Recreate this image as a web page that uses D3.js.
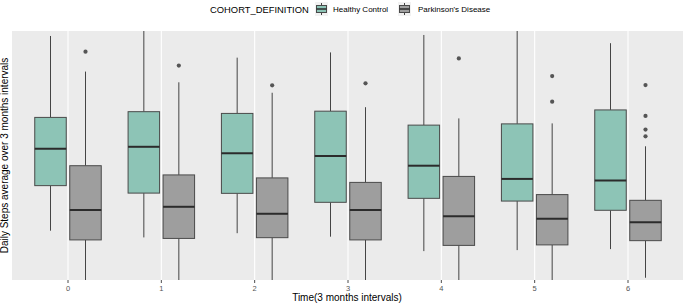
<!DOCTYPE html>
<html>
<head>
<meta charset="utf-8">
<script src="https://cdnjs.cloudflare.com/ajax/libs/d3/7.8.5/d3.min.js"></script>
<style>
  body { margin: 0; background: #fff; }
  svg { display: block; font-family: "Liberation Sans", Arial, Helvetica, sans-serif; }
</style>
</head>
<body>
<svg id="chart" width="683" height="305"></svg>
<script>
"use strict"

// Time points (3 months intervals) and cohorts
const periods = ["0", "1", "2", "3", "4", "5", "6"]
const cohorts = ["Healthy Control", "Parkinson's Disease"]

// Healthy Control box statistics (daily steps)
const hcLow  = [2980, 2710, 2880, 2740, 2160, 2200, 2240]
const hcQ1   = [4790, 4490, 4480, 4120, 4280, 4170, 3800]
const hcMed  = [6270, 6350, 6090, 5980, 5590, 5060, 5000]
const hcQ3   = [7530, 7760, 7690, 7780, 7220, 7270, 7830]
const hcHigh = [10800, 11400, 9930, 10140, 10840, 11400, 10510]
const hcOut  = [[], [], [], [], [], [], []]

// Parkinson's Disease box statistics (daily steps)
const pdLow  = [500, 600, 500, 500, 800, 800, 1090]
const pdQ1   = [2610, 2670, 2700, 2610, 2390, 2410, 2580]
const pdMed  = [3810, 3940, 3660, 3810, 3560, 3460, 3320]
const pdQ3   = [5590, 5220, 5100, 4920, 5160, 4430, 4200]
const pdHigh = [9370, 8940, 8520, 7940, 7490, 7290, 6370]
const pdOut  = [[10170], [9610], [8820], [8900], [9900], [9190, 8160], [8830, 7590, 7040, 6770]]

const fills = ["#8dc4b6", "#9e9e9e"]

function buildRows(){
    const rows = []
    periods.forEach((p, i) => {
        rows.push({period: p, cohort: cohorts[0], low: hcLow[i], q1: hcQ1[i], med: hcMed[i], q3: hcQ3[i], high: hcHigh[i], out: hcOut[i]})
        rows.push({period: p, cohort: cohorts[1], low: pdLow[i], q1: pdQ1[i], med: pdMed[i], q3: pdQ3[i], high: pdHigh[i], out: pdOut[i]})
    })
    return rows
}

function render(){
    const svg = d3.select("#chart")
    const panel = {left: 12, right: 684, top: 31, bottom: 280}

    const x = d3.scaleBand().domain(periods)
        .range([panel.left, panel.right])
        .paddingInner(0).paddingOuter(0.1)
    const dodge = d3.scaleBand().domain(cohorts)
        .range([-0.375 * x.step(), 0.375 * x.step()])
    const boxW = dodge.bandwidth() * 0.9
    const y = d3.scaleLinear().domain([1000, 11000]).range([panel.bottom, panel.top])
    const color = d3.scaleOrdinal().domain(cohorts).range(fills)

    // panel background
    svg.append("rect")
        .attr("x", panel.left).attr("y", panel.top)
        .attr("width", panel.right - panel.left).attr("height", panel.bottom - panel.top)
        .attr("fill", "#ebebeb")

    svg.append("clipPath").attr("id", "clip")
        .append("rect")
        .attr("x", panel.left).attr("y", panel.top)
        .attr("width", panel.right - panel.left).attr("height", panel.bottom - panel.top)

    // vertical grid lines
    svg.append("g").selectAll("line").data(periods).join("line")
        .attr("x1", d => x(d) + x.bandwidth() / 2).attr("x2", d => x(d) + x.bandwidth() / 2)
        .attr("y1", panel.top).attr("y2", panel.bottom)
        .attr("stroke", "#fff").attr("stroke-width", 1.1)

    const plot = svg.append("g").attr("clip-path", "url(#clip)")
    const rows = buildRows()
    const cx = d => x(d.period) + x.bandwidth() / 2 + dodge(d.cohort) + dodge.bandwidth() / 2

    const g = plot.selectAll("g.box").data(rows).join("g").attr("class", "box")

    // whiskers
    g.append("line")
        .attr("x1", cx).attr("x2", cx)
        .attr("y1", d => y(d.q3)).attr("y2", d => y(d.high))
        .attr("stroke", "#444").attr("stroke-width", 1)
    g.append("line")
        .attr("x1", cx).attr("x2", cx)
        .attr("y1", d => y(d.q1)).attr("y2", d => y(d.low))
        .attr("stroke", "#444").attr("stroke-width", 1)

    // boxes
    g.append("rect")
        .attr("x", d => cx(d) - boxW / 2).attr("width", boxW)
        .attr("y", d => y(d.q3)).attr("height", d => y(d.q1) - y(d.q3))
        .attr("fill", d => color(d.cohort))
        .attr("stroke", "#4a4a4a").attr("stroke-width", 1)

    // medians
    g.append("line")
        .attr("x1", d => cx(d) - boxW / 2).attr("x2", d => cx(d) + boxW / 2)
        .attr("y1", d => y(d.med)).attr("y2", d => y(d.med))
        .attr("stroke", "#2b2b2b").attr("stroke-width", 2)

    // outliers
    g.selectAll("circle").data(d => d.out.map(v => ({v: v, cx: cx(d)}))).join("circle")
        .attr("cx", d => d.cx).attr("cy", d => y(d.v)).attr("r", 2.1)
        .attr("fill", "#555")

    // x axis ticks and labels
    const ticks = svg.append("g")
    ticks.selectAll("line").data(periods).join("line")
        .attr("x1", d => x(d) + x.bandwidth() / 2).attr("x2", d => x(d) + x.bandwidth() / 2)
        .attr("y1", panel.bottom).attr("y2", panel.bottom + 3)
        .attr("stroke", "#4d4d4d").attr("stroke-width", 1)
    ticks.selectAll("text").data(periods).join("text")
        .attr("x", d => x(d) + x.bandwidth() / 2).attr("y", panel.bottom + 10.5)
        .attr("text-anchor", "middle")
        .attr("font-size", "7.5px").attr("fill", "#555555")
        .text(d => d)

    // axis titles
    svg.append("text")
        .attr("x", (panel.left + panel.right) / 2 - 1).attr("y", 301)
        .attr("text-anchor", "middle").attr("font-size", "10px").attr("fill", "#000")
        .text("Time(3 months intervals)")
    svg.append("text")
        .attr("transform", `translate(8,${(panel.top + panel.bottom) / 2}) rotate(-90)`)
        .attr("text-anchor", "middle").attr("font-size", "10px").attr("fill", "#000")
        .text("Daily Steps average over 3 months intervals")

    // legend
    const legend = svg.append("g")
    legend.append("text")
        .attr("x", 210).attr("y", 12.5)
        .attr("font-size", "9.4px").attr("fill", "#000")
        .text("COHORT_DEFINITION")
    const keyX = [315, 398]
    const labelX = [333, 418]
    cohorts.forEach((c, i) => {
        const k = legend.append("g").attr("transform", `translate(${keyX[i]},2)`)
        k.append("rect").attr("width", 13).attr("height", 14).attr("fill", "#f2f2f2")
        k.append("line").attr("x1", 6.5).attr("x2", 6.5).attr("y1", 1).attr("y2", 13)
            .attr("stroke", "#444").attr("stroke-width", 1)
        k.append("rect").attr("x", 1.5).attr("y", 3.5).attr("width", 10).attr("height", 7)
            .attr("fill", color(c)).attr("stroke", "#4a4a4a").attr("stroke-width", 1)
        k.append("line").attr("x1", 1.5).attr("x2", 11.5).attr("y1", 7).attr("y2", 7)
            .attr("stroke", "#2b2b2b").attr("stroke-width", 1.5)
        legend.append("text")
            .attr("x", labelX[i]).attr("y", 12)
            .attr("font-size", "8px").attr("fill", "#000")
            .text(c)
    })
}

render()
</script>
</body>
</html>
